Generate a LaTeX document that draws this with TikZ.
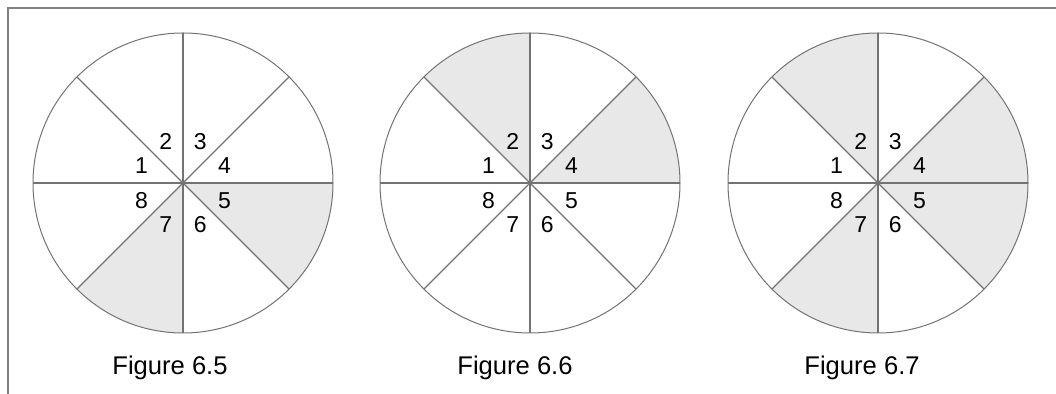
\documentclass[tikz,border=0pt]{standalone}
\usepackage{fontspec}
\setmainfont{Liberation Sans}
\usetikzlibrary{positioning}

\begin{document}
\begin{tikzpicture}[x=1pt, y=1pt,
    rim/.style={draw=black!55, line width=0.5pt},
    spoke/.style={draw=black!55, line width=0.6pt},
    dotfill/.style={fill=black!9},
    num/.style={font=\fontsize{11.5}{12}\selectfont, inner sep=0pt},
    figcap/.style={font=\fontsize{12.8}{14}\selectfont, inner sep=0pt},
    frame/.style={draw=black!50, line width=0.6pt}
]
\useasboundingbox (0,0) rectangle (528,-197);
% frame (top and left edge only)
\coordinate (tl) at (4,-4);
\coordinate (tr) at (528,-4);
\coordinate (bl) at (4,-197);
\draw[frame] (tr) -- (tl) -- (bl);

\coordinate (c1) at (91.5,-91.5);
\coordinate (c2) at (265,-91.5);
\coordinate (c3) at (439,-91.5);

% Figure 6.5: sectors 5 and 7
\fill[dotfill] (c1) -- ++(0:75) arc[start angle=0, end angle=-45, radius=75] -- cycle;
\fill[dotfill] (c1) -- ++(-90:75) arc[start angle=-90, end angle=-135, radius=75] -- cycle;
% Figure 6.6: sectors 2 and 4
\fill[dotfill] (c2) -- ++(135:75) arc[start angle=135, end angle=90, radius=75] -- cycle;
\fill[dotfill] (c2) -- ++(45:75) arc[start angle=45, end angle=0, radius=75] -- cycle;
% Figure 6.7: sectors 2, 4, 5 and 7
\fill[dotfill] (c3) -- ++(135:75) arc[start angle=135, end angle=90, radius=75] -- cycle;
\fill[dotfill] (c3) -- ++(45:75) arc[start angle=45, end angle=-45, radius=75] -- cycle;
\fill[dotfill] (c3) -- ++(-90:75) arc[start angle=-90, end angle=-135, radius=75] -- cycle;

\foreach \c in {1,2,3} {
  \draw[rim] (c\c) circle[radius=75];
  \foreach \a in {0,45,90,135}
    \draw[spoke] (c\c) ++(\a:75) -- ++(\a+180:150);
  \foreach \k in {1,...,8}
    \node[num] (n\c\k) at ([shift={(202.5-45*\k:22.5)}]c\c) {\k};
}

\node[figcap] (cap1) at (85,-184) {Figure 6.5};
\node[figcap] (cap2) at (257.5,-184) {Figure 6.6};
\node[figcap] (cap3) at (431,-184) {Figure 6.7};
\end{tikzpicture}
\end{document}
